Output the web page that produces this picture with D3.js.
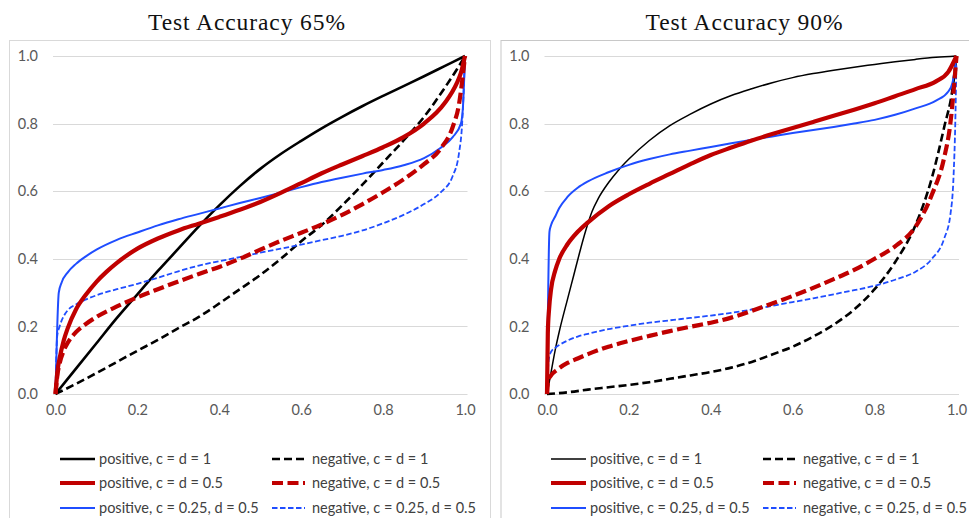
<!DOCTYPE html>
<html>
<head>
<meta charset="utf-8">
<script src="https://cdn.jsdelivr.net/npm/d3@7"></script>
<style>
  html, body { margin: 0; padding: 0; background: #fff; }
  svg { display: block; }
</style>
</head>
<body>
<svg id="chart" width="969" height="518"></svg>
<script>
// ---- data ---------------------------------------------------------------
const panelTitles = ["Test Accuracy 65%", "Test Accuracy 90%"];
const tickValues = [0, 0.2, 0.4, 0.6, 0.8, 1.0];
const seriesNames = [
  "positive, c = d = 1", "negative, c = d = 1",
  "positive, c = d = 0.5", "negative, c = d = 0.5",
  "positive, c = 0.25, d = 0.5", "negative, c = 0.25, d = 0.5"
];

// Test accuracy 65%
const acc65PosC1 = [[0,0],[0.05,0.075],[0.1,0.15],[0.15,0.225],[0.2,0.295],[0.25,0.364],[0.3,0.43],[0.35,0.496],[0.4,0.558],[0.45,0.615],[0.5,0.666],[0.55,0.71],[0.6,0.749],[0.65,0.786],[0.7,0.82],[0.75,0.852],[0.8,0.882],[0.85,0.911],[0.9,0.94],[0.95,0.97],[1,1]];
const acc65NegC1 = [[0,0],[0.05,0.03],[0.1,0.062],[0.15,0.095],[0.2,0.128],[0.25,0.16],[0.3,0.195],[0.35,0.228],[0.4,0.268],[0.45,0.31],[0.5,0.352],[0.55,0.4],[0.6,0.452],[0.65,0.5],[0.7,0.558],[0.75,0.62],[0.8,0.685],[0.85,0.75],[0.9,0.82],[0.95,0.905],[0.98,0.96],[1,1]];
const acc65PosC05 = [[0,0],[0.005,0.07],[0.01,0.105],[0.02,0.158],[0.03,0.195],[0.05,0.25],[0.075,0.295],[0.1,0.332],[0.125,0.362],[0.15,0.388],[0.2,0.43],[0.25,0.46],[0.3,0.484],[0.35,0.504],[0.4,0.524],[0.45,0.545],[0.5,0.568],[0.55,0.595],[0.6,0.624],[0.65,0.653],[0.7,0.679],[0.75,0.704],[0.8,0.73],[0.85,0.76],[0.9,0.8],[0.95,0.86],[0.98,0.92],[0.99,0.95],[1,1]];
const acc65NegC05 = [[0,0],[0.005,0.06],[0.01,0.09],[0.02,0.128],[0.03,0.152],[0.05,0.183],[0.075,0.208],[0.1,0.228],[0.15,0.259],[0.2,0.286],[0.25,0.31],[0.3,0.333],[0.35,0.355],[0.4,0.376],[0.45,0.4],[0.5,0.427],[0.55,0.453],[0.6,0.477],[0.65,0.502],[0.7,0.53],[0.75,0.562],[0.8,0.597],[0.85,0.635],[0.9,0.68],[0.94,0.725],[0.97,0.79],[0.985,0.855],[1,1]];
const acc65PosC025 = [[0,0],[0.008,0.3],[0.015,0.33],[0.03,0.36],[0.05,0.385],[0.075,0.408],[0.1,0.427],[0.15,0.456],[0.2,0.478],[0.25,0.499],[0.3,0.517],[0.35,0.533],[0.4,0.549],[0.45,0.565],[0.5,0.58],[0.55,0.596],[0.6,0.612],[0.65,0.627],[0.7,0.64],[0.75,0.652],[0.8,0.663],[0.85,0.677],[0.9,0.698],[0.94,0.728],[0.97,0.76],[0.99,0.8],[0.995,0.85],[1,1]];
const acc65NegC025 = [[0,0],[0.004,0.17],[0.01,0.2],[0.02,0.23],[0.03,0.248],[0.05,0.265],[0.075,0.28],[0.1,0.292],[0.15,0.31],[0.2,0.326],[0.25,0.344],[0.3,0.363],[0.35,0.38],[0.4,0.393],[0.45,0.405],[0.5,0.418],[0.55,0.43],[0.6,0.442],[0.65,0.455],[0.7,0.468],[0.75,0.484],[0.8,0.505],[0.85,0.53],[0.9,0.562],[0.94,0.596],[0.97,0.645],[0.985,0.71],[0.993,0.8],[1,1]];

// Test accuracy 90%
const acc90PosC1 = [[0,0],[0.01,0.065],[0.02,0.13],[0.03,0.185],[0.05,0.28],[0.065,0.35],[0.08,0.42],[0.095,0.485],[0.11,0.54],[0.125,0.578],[0.15,0.625],[0.175,0.663],[0.2,0.695],[0.25,0.75],[0.3,0.794],[0.35,0.828],[0.4,0.858],[0.45,0.883],[0.5,0.903],[0.55,0.921],[0.6,0.936],[0.65,0.948],[0.7,0.958],[0.75,0.967],[0.8,0.975],[0.85,0.983],[0.9,0.99],[0.95,0.996],[1,1]];
const acc90NegC1 = [[0,0],[0.05,0.005],[0.1,0.013],[0.15,0.02],[0.2,0.027],[0.25,0.035],[0.3,0.045],[0.35,0.055],[0.4,0.065],[0.45,0.078],[0.5,0.095],[0.55,0.117],[0.6,0.14],[0.65,0.17],[0.7,0.205],[0.75,0.25],[0.8,0.31],[0.85,0.39],[0.9,0.5],[0.94,0.64],[0.97,0.79],[0.99,0.9],[1,1]];
const acc90PosC05 = [[0,0],[0.002,0.18],[0.005,0.25],[0.01,0.31],[0.02,0.365],[0.03,0.4],[0.05,0.443],[0.075,0.48],[0.1,0.508],[0.15,0.555],[0.2,0.591],[0.25,0.622],[0.3,0.651],[0.35,0.68],[0.4,0.707],[0.45,0.729],[0.5,0.75],[0.55,0.769],[0.6,0.787],[0.65,0.805],[0.7,0.823],[0.75,0.841],[0.8,0.86],[0.85,0.881],[0.9,0.902],[0.95,0.925],[0.98,0.953],[1,1]];
const acc90NegC05 = [[0,0],[0.003,0.04],[0.01,0.055],[0.025,0.072],[0.05,0.092],[0.075,0.105],[0.1,0.118],[0.15,0.14],[0.2,0.157],[0.25,0.172],[0.3,0.186],[0.35,0.199],[0.4,0.211],[0.45,0.226],[0.5,0.246],[0.55,0.268],[0.6,0.29],[0.65,0.314],[0.7,0.34],[0.75,0.367],[0.8,0.4],[0.85,0.437],[0.9,0.495],[0.94,0.59],[0.97,0.7],[0.985,0.8],[1,1]];
const acc90PosC025 = [[0,0],[0.006,0.48],[0.01,0.5],[0.02,0.525],[0.03,0.55],[0.05,0.583],[0.075,0.61],[0.1,0.629],[0.15,0.656],[0.2,0.678],[0.25,0.695],[0.3,0.709],[0.35,0.72],[0.4,0.731],[0.45,0.742],[0.5,0.752],[0.55,0.762],[0.6,0.772],[0.65,0.781],[0.7,0.79],[0.75,0.8],[0.8,0.811],[0.85,0.826],[0.9,0.845],[0.95,0.868],[0.98,0.895],[0.99,0.92],[1,1]];
const acc90NegC025 = [[0,0],[0.004,0.1],[0.01,0.125],[0.02,0.137],[0.03,0.145],[0.05,0.158],[0.075,0.17],[0.1,0.178],[0.15,0.192],[0.2,0.202],[0.25,0.211],[0.3,0.218],[0.35,0.225],[0.4,0.232],[0.45,0.24],[0.5,0.25],[0.55,0.261],[0.6,0.272],[0.65,0.283],[0.7,0.295],[0.75,0.307],[0.8,0.32],[0.85,0.338],[0.9,0.362],[0.94,0.4],[0.97,0.46],[0.985,0.53],[0.993,0.65],[0.997,0.8],[1,1]];

const panelSeries = [
  [acc65PosC1, acc65NegC1, acc65PosC05, acc65NegC05, acc65PosC025, acc65NegC025],
  [acc90PosC1, acc90NegC1, acc90PosC05, acc90NegC05, acc90PosC025, acc90NegC025]
];

// ---- styles -------------------------------------------------------------
const RED = "#c00000", BLUE = "#1f4dff", BLACK = "#000000";
const styleFor = (panel, i) => [
  { color: BLACK, width: panel === 0 ? 2.6 : 1.5, dash: null },
  { color: BLACK, width: 2.6, dash: "8,4" },
  { color: RED,   width: 4.2, dash: null },
  { color: RED,   width: 4.2, dash: "11,4.5" },
  { color: BLUE,  width: 2,   dash: null },
  { color: BLUE,  width: 1.8, dash: "5.5,2.5" }
][i];

const svg = d3.select("#chart");
const drawOrder = [0, 1, 4, 5, 2, 3];
const titleX = [246.5, 744];

panelTitles.forEach((title, p) => {
  const off = p * 491;
  const g = svg.append("g").attr("transform", `translate(${off},0)`);

  // panel frame
  g.append("rect")
    .attr("x", 9.5 + (p ? 0.5 : 0)).attr("y", 40.5)
    .attr("width", p ? 500 : 481).attr("height", 500)
    .attr("fill", "none")
    .attr("stroke", p ? "#c8c8c8" : "#d9d9d9");

  const x = d3.scaleLinear().domain([0, 1]).range([55.5 + p * 0.5, 465 + p * 0.5]);
  const y = d3.scaleLinear().domain([0, 1]).range([394, 56]);

  svg.append("text")
    .attr("x", titleX[p]).attr("y", 30)
    .attr("text-anchor", "middle")
    .attr("font-family", "'Liberation Serif', 'DejaVu Serif', serif")
    .attr("font-size", 23.5)
    .attr("textLength", 197)
    .attr("lengthAdjust", "spacing")
    .attr("fill", "#111")
    .text(title);

  // horizontal gridlines
  g.append("g").selectAll("line").data(tickValues).join("line")
    .attr("x1", x(0) - 2.5).attr("x2", x(1) + 2.5)
    .attr("y1", d => Math.round(y(d)) + 0.5).attr("y2", d => Math.round(y(d)) + 0.5)
    .attr("stroke", "#d9d9d9").attr("stroke-width", 1);

  // axes (labels only)
  const yAxis = d3.axisLeft(y).tickValues(tickValues).tickFormat(d3.format(".1f")).tickSize(0).tickPadding(0);
  g.append("g").attr("transform", `translate(${38 + p * 0.5},0)`).call(yAxis)
    .call(s => s.select(".domain").remove())
    .call(s => s.selectAll("text").attr("font-family", "Lato, 'Open Sans', sans-serif")
      .attr("font-size", 14.5).attr("fill", "#595959"));

  const xAxis = d3.axisBottom(x).tickValues(tickValues).tickFormat(d3.format(".1f")).tickSize(0).tickPadding(0);
  g.append("g").attr("transform", "translate(0,405)").call(xAxis)
    .call(s => s.select(".domain").remove())
    .call(s => s.selectAll("text").attr("font-family", "Lato, 'Open Sans', sans-serif")
      .attr("font-size", 14.5).attr("fill", "#595959"));

  // curves
  const line = d3.line().x(d => x(d[0])).y(d => y(d[1])).curve(d3.curveMonotoneX);
  drawOrder.forEach(i => {
    const st = styleFor(p, i);
    g.append("path")
      .datum(panelSeries[p][i])
      .attr("d", line)
      .attr("fill", "none")
      .attr("stroke", st.color)
      .attr("stroke-width", st.width)
      .attr("stroke-dasharray", st.dash)
      .attr("stroke-linejoin", "round");
  });

  // legend: two columns, three rows
  const rowY = [459, 483, 508];
  const colLine = [[60, 95], [272, 305]];
  const colText = [99, 312];
  seriesNames.forEach((name, i) => {
    const col = i % 2, row = Math.floor(i / 2);
    const st = styleFor(p, i);
    g.append("line")
      .attr("x1", colLine[col][0]).attr("x2", colLine[col][1])
      .attr("y1", rowY[row]).attr("y2", rowY[row])
      .attr("stroke", st.color).attr("stroke-width", st.width)
      .attr("stroke-dasharray", st.dash);
    g.append("text")
      .attr("x", colText[col]).attr("y", rowY[row] + 5)
      .attr("font-family", "Lato, 'Open Sans', sans-serif")
      .attr("font-size", 14.5).attr("fill", "#404040")
      .text(name);
  });
});
</script>
</body>
</html>
